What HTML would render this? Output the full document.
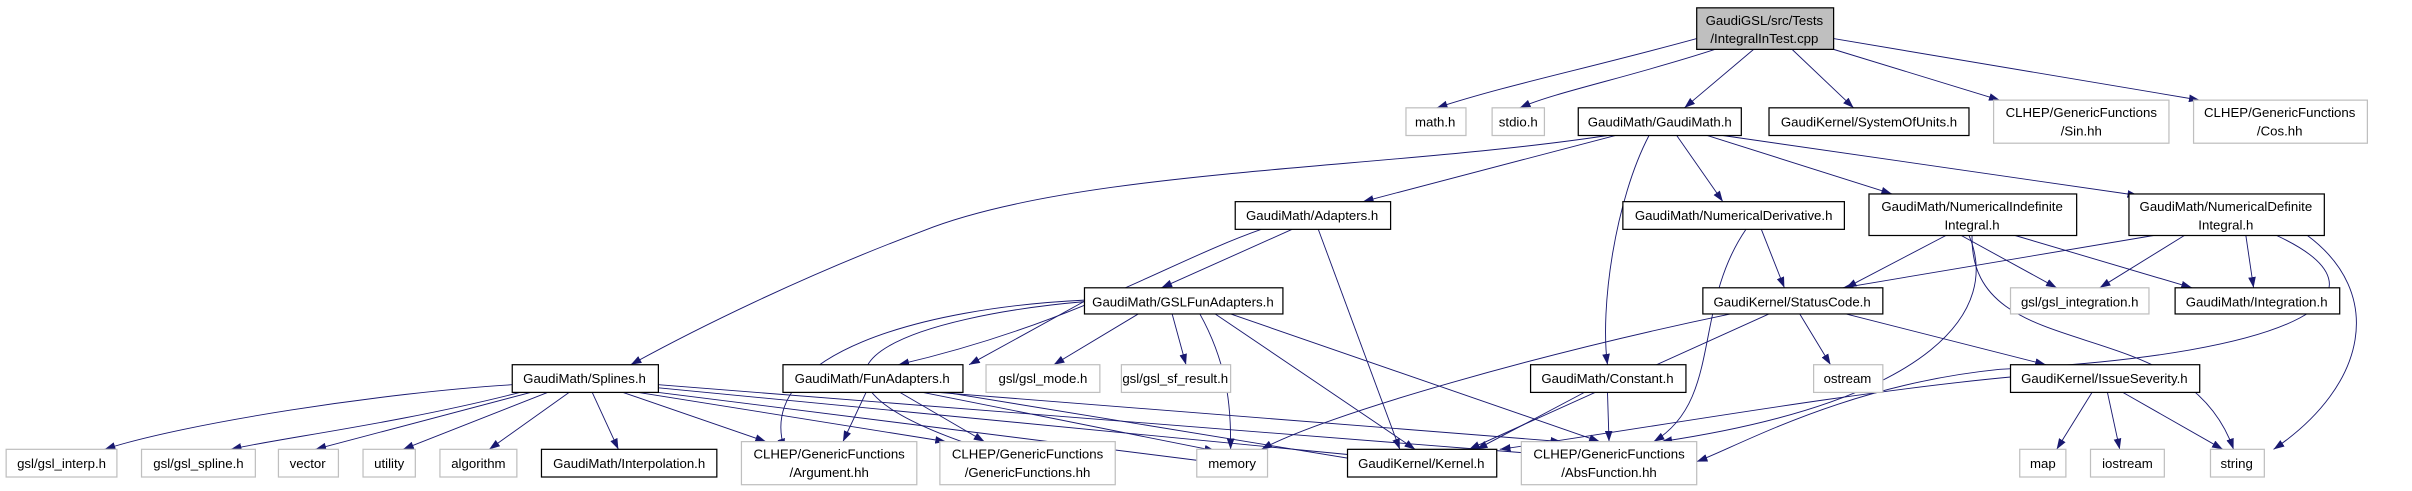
<!DOCTYPE html>
<html><head><meta charset="utf-8"><style>
html,body{margin:0;padding:0;background:#fff;}
svg{display:block}
text{font-family:"Liberation Sans",sans-serif;font-size:8.6px;fill:#000;text-anchor:middle}
.b{fill:#fff;stroke:#000;stroke-width:0.8}
.g{fill:#fff;stroke:#bfbfbf;stroke-width:0.8}
.e{fill:none;stroke:#191970;stroke-width:0.6;marker-end:url(#a)}
</style></head><body>
<svg width="2412" height="491" viewBox="0 0 1568 319" xmlns="http://www.w3.org/2000/svg">
<defs><marker id="a" markerWidth="7" markerHeight="5" refX="7" refY="2.5" orient="auto" markerUnits="userSpaceOnUse"><path d="M0,0 L7,2.5 L0,5 z" fill="#191970"/></marker></defs>

<!-- edges -->
<g>
<path class="e" d="M1103,25 C1030,45 980,55 934,70"/>
<path class="e" d="M1115,32 C1060,50 1010,60 988,70"/>
<path class="e" d="M1140,32 L1095,70"/>
<path class="e" d="M1165,32 L1205,70"/>
<path class="e" d="M1192,32 L1300,65"/>
<path class="e" d="M1192,25 L1430,65"/>

<path class="e" d="M1045,88 C900,110 700,110 600,150 C520,180 450,215 410,237"/>
<path class="e" d="M1050,88 L886,131"/>
<path class="e" d="M1072,88 C1050,130 1040,200 1045,237"/>
<path class="e" d="M1090,88 L1120,131"/>
<path class="e" d="M1110,88 L1230,126"/>
<path class="e" d="M1120,88 L1390,127"/>

<path class="e" d="M840,149 L755,187"/>
<path class="e" d="M820,149 C760,170 700,210 584,237"/>
<path class="e" d="M857,149 L910,292"/>

<path class="e" d="M1145,149 L1160,187"/>
<path class="e" d="M1135,149 C1100,200 1120,260 1075,287"/>

<path class="e" d="M1265,153 L1200,187"/>
<path class="e" d="M1275,153 L1337,187"/>
<path class="e" d="M1310,153 L1425,187"/>
<path class="e" d="M1280,153 C1300,200 1260,260 1080,287"/>
<path class="e" d="M1282,153 C1280,240 1420,200 1452,292"/>

<path class="e" d="M1400,153 L1198,187"/>
<path class="e" d="M1420,153 L1365,187"/>
<path class="e" d="M1460,153 L1465,187"/>
<path class="e" d="M1480,153 C1560,190 1500,230 1300,240 C1200,250 1130,290 1103,300"/>
<path class="e" d="M1500,153 C1550,190 1540,250 1478,292"/>

<path class="e" d="M710,193 L630,237"/>
<path class="e" d="M740,204 L685,237"/>
<path class="e" d="M762,204 L771,237"/>
<path class="e" d="M705,195 C600,200 490,230 510,292"/>
<path class="e" d="M705,196 C600,205 480,240 640,292"/>
<path class="e" d="M780,204 C800,240 800,270 800,292"/>
<path class="e" d="M790,204 L920,292"/>
<path class="e" d="M800,204 L1040,287"/>

<path class="e" d="M333,250 C250,255 120,275 68,292"/>
<path class="e" d="M338,255 C260,275 180,285 150,292"/>
<path class="e" d="M345,255 L205,292"/>
<path class="e" d="M356,255 L262,292"/>
<path class="e" d="M370,255 L318,292"/>
<path class="e" d="M385,255 L402,292"/>
<path class="e" d="M405,255 L498,287"/>
<path class="e" d="M415,255 L615,287"/>
<path class="e" d="M428,255 L785,300"/>
<path class="e" d="M428,252 L893,297"/>
<path class="e" d="M428,250 L1000,295"/>

<path class="e" d="M563,255 L548,287"/>
<path class="e" d="M585,255 L640,287"/>
<path class="e" d="M600,255 L790,293"/>
<path class="e" d="M615,255 L890,300"/>
<path class="e" d="M610,255 L1015,287"/>

<path class="e" d="M1125,204 C1000,230 860,270 820,292"/>
<path class="e" d="M1150,204 L955,292"/>
<path class="e" d="M1170,204 L1190,237"/>
<path class="e" d="M1200,204 L1330,237"/>

<path class="e" d="M1030,255 L960,292"/>
<path class="e" d="M1045,255 L1046,287"/>

<path class="e" d="M1307,245 C1200,255 1060,280 975,292"/>
<path class="e" d="M1360,255 L1337,292"/>
<path class="e" d="M1370,255 L1378,292"/>
<path class="e" d="M1380,255 L1445,292"/>
</g>

<!-- nodes -->
<rect x="1103" y="5" width="89" height="27" fill="#bfbfbf" stroke="#000" stroke-width="0.8"/>
<text x="1147" y="16">GaudiGSL/src/Tests</text><text x="1147" y="28">/IntegralInTest.cpp</text>

<rect class="g" x="914" y="70" width="39" height="18"/><text x="933" y="82">math.h</text>
<rect class="g" x="970" y="70" width="34" height="18"/><text x="987" y="82">stdio.h</text>
<rect class="b" x="1026" y="70" width="106" height="18"/><text x="1079" y="82">GaudiMath/GaudiMath.h</text>
<rect class="b" x="1150" y="70" width="130" height="18"/><text x="1215" y="82">GaudiKernel/SystemOfUnits.h</text>
<rect class="g" x="1296" y="65" width="114" height="28"/><text x="1353" y="76">CLHEP/GenericFunctions</text><text x="1353" y="88">/Sin.hh</text>
<rect class="g" x="1426" y="65" width="113" height="28"/><text x="1482" y="76">CLHEP/GenericFunctions</text><text x="1482" y="88">/Cos.hh</text>

<rect class="b" x="803" y="131" width="101" height="18"/><text x="853" y="143">GaudiMath/Adapters.h</text>
<rect class="b" x="1055" y="131" width="144" height="18"/><text x="1127" y="143">GaudiMath/NumericalDerivative.h</text>
<rect class="b" x="1215" y="126" width="135" height="27"/><text x="1282" y="137">GaudiMath/NumericalIndefinite</text><text x="1282" y="149">Integral.h</text>
<rect class="b" x="1384" y="126" width="127" height="27"/><text x="1447" y="137">GaudiMath/NumericalDefinite</text><text x="1447" y="149">Integral.h</text>

<rect class="b" x="705" y="187" width="129" height="17"/><text x="769" y="199">GaudiMath/GSLFunAdapters.h</text>
<rect class="b" x="1107" y="187" width="117" height="17"/><text x="1165" y="199">GaudiKernel/StatusCode.h</text>
<rect class="g" x="1307" y="187" width="90" height="17"/><text x="1352" y="199">gsl/gsl_integration.h</text>
<rect class="b" x="1414" y="187" width="107" height="17"/><text x="1467" y="199">GaudiMath/Integration.h</text>

<rect class="b" x="333" y="237" width="95" height="18"/><text x="380" y="249">GaudiMath/Splines.h</text>
<rect class="b" x="509" y="237" width="117" height="18"/><text x="567" y="249">GaudiMath/FunAdapters.h</text>
<rect class="g" x="641" y="237" width="74" height="18"/><text x="678" y="249">gsl/gsl_mode.h</text>
<rect class="g" x="729" y="237" width="71" height="18"/><text x="764" y="249">gsl/gsl_sf_result.h</text>
<rect class="b" x="995" y="237" width="101" height="18"/><text x="1045" y="249">GaudiMath/Constant.h</text>
<rect class="g" x="1179" y="237" width="45" height="18"/><text x="1201" y="249">ostream</text>
<rect class="b" x="1307" y="237" width="123" height="18"/><text x="1368" y="249">GaudiKernel/IssueSeverity.h</text>

<rect class="g" x="4" y="292" width="72" height="18"/><text x="40" y="304">gsl/gsl_interp.h</text>
<rect class="g" x="92" y="292" width="74" height="18"/><text x="129" y="304">gsl/gsl_spline.h</text>
<rect class="g" x="181" y="292" width="39" height="18"/><text x="200" y="304">vector</text>
<rect class="g" x="236" y="292" width="34" height="18"/><text x="253" y="304">utility</text>
<rect class="g" x="286" y="292" width="50" height="18"/><text x="311" y="304">algorithm</text>
<rect class="b" x="352" y="292" width="114" height="18"/><text x="409" y="304">GaudiMath/Interpolation.h</text>
<rect class="g" x="482" y="287" width="114" height="28"/><text x="539" y="298">CLHEP/GenericFunctions</text><text x="539" y="310">/Argument.hh</text>
<rect class="g" x="611" y="287" width="114" height="28"/><text x="668" y="298">CLHEP/GenericFunctions</text><text x="668" y="310">/GenericFunctions.hh</text>
<rect class="g" x="778" y="292" width="46" height="18"/><text x="801" y="304">memory</text>
<rect class="b" x="876" y="292" width="97" height="18"/><text x="924" y="304">GaudiKernel/Kernel.h</text>
<rect class="g" x="989" y="287" width="114" height="28"/><text x="1046" y="298">CLHEP/GenericFunctions</text><text x="1046" y="310">/AbsFunction.hh</text>
<rect class="g" x="1313" y="292" width="30" height="18"/><text x="1328" y="304">map</text>
<rect class="g" x="1359" y="292" width="48" height="18"/><text x="1383" y="304">iostream</text>
<rect class="g" x="1437" y="292" width="35" height="18"/><text x="1454" y="304">string</text>
</svg>
</body></html>
